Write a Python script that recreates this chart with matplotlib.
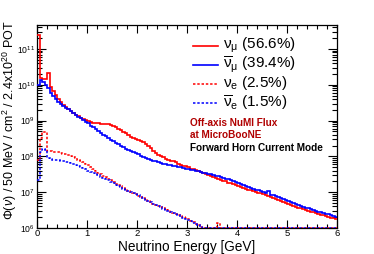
import numpy as np
import matplotlib
matplotlib.use('Agg')
import matplotlib.pyplot as plt
from matplotlib.lines import Line2D
from matplotlib.ticker import LogLocator, MultipleLocator, FuncFormatter, NullFormatter

plt.rcParams['font.family'] = ['Liberation Sans', 'DejaVu Sans']
plt.rcParams['mathtext.fontset'] = 'custom'
plt.rcParams['mathtext.rm'] = 'Liberation Sans'
plt.rcParams['mathtext.it'] = 'Liberation Sans:italic'
plt.rcParams['mathtext.bf'] = 'Liberation Sans:bold'
plt.rcParams['mathtext.sf'] = 'Liberation Sans'
plt.rcParams['mathtext.fallback'] = 'stixsans'

# ---- data: log10(flux) per 50 MeV bin, 0-6 GeV (None = empty bin) ----
bin_edges = np.linspace(0.0, 6.0, 121)

log_numu = [11.40, 10.18, 10.17, 10.16, 10.34, 9.93, 9.82, 9.72, 9.60, 9.51,
            9.44, 9.38, 9.32, 9.26, 9.21, 9.16, 9.12, 9.08, 9.04, 9.01,
            8.98, 8.96, 8.94, 8.93, 8.92, 8.91, 8.91, 8.90, 8.90, 8.89,
            8.86, 8.82, 8.77, 8.73, 8.68, 8.64, 8.59, 8.55, 8.52, 8.49,
            8.46, 8.43, 8.39, 8.35, 8.30, 8.24, 8.16, 8.10, 8.05, 8.01,
            7.97, 7.94, 7.91, 7.88, 7.86, 7.83, 7.80, 7.77, 7.74, 7.72,
            7.69, 7.66, 7.64, 7.61, 7.58, 7.56, 7.53, 7.50, 7.48, 7.46,
            7.43, 7.40, 7.37, 7.35, 7.32, 7.30, 7.27, 7.25, 7.22, 7.20,
            7.17, 7.14, 7.12, 7.10, 7.07, 7.06, 7.03, 7.01, 6.99, 6.97,
            6.94, 6.92, 6.89, 6.86, 6.83, 6.80, 6.78, 6.76, 6.73, 6.70,
            6.67, 6.65, 6.62, 6.60, 6.57, 6.55, 6.53, 6.50, 6.48, 6.46,
            6.44, 6.41, 6.39, 6.37, 6.35, 6.33, 6.31, 6.28, 6.27, 6.25]

log_numubar = [10.00, 10.12, 10.08, 10.00, 9.90, 9.76, 9.68, 9.60, 9.53, 9.47,
               9.41, 9.36, 9.31, 9.26, 9.21, 9.16, 9.11, 9.06, 9.01, 8.97,
               8.92, 8.86, 8.81, 8.76, 8.71, 8.66, 8.61, 8.56, 8.51, 8.46,
               8.42, 8.38, 8.34, 8.29, 8.25, 8.22, 8.18, 8.15, 8.12, 8.09,
               8.06, 8.02, 7.99, 7.96, 7.93, 7.91, 7.88, 7.86, 7.84, 7.82,
               7.80, 7.79, 7.77, 7.76, 7.74, 7.72, 7.71, 7.69, 7.67, 7.66,
               7.64, 7.62, 7.61, 7.59, 7.58, 7.56, 7.55, 7.53, 7.52, 7.50,
               7.48, 7.46, 7.44, 7.42, 7.40, 7.38, 7.36, 7.34, 7.31, 7.29,
               7.26, 7.24, 7.21, 7.18, 7.15, 7.13, 7.10, 7.07, 7.05, 7.02,
               7.00, 6.97, 7.02, 6.93, 6.91, 6.88, 6.86, 6.83, 6.81, 6.78,
               6.75, 6.72, 6.70, 6.67, 6.65, 6.62, 6.60, 6.57, 6.55, 6.52,
               6.50, 6.48, 6.46, 6.44, 6.42, 6.40, 6.38, 6.36, 6.34, 6.31]

log_nue = [7.90, 8.50, 8.69, 8.68, 8.16, 8.14, 8.13, 8.12, 8.11, 8.10,
           8.08, 8.06, 8.03, 8.01, 7.98, 7.95, 7.91, 7.87, 7.83, 7.79,
           7.75, 7.70, 7.65, 7.60, 7.55, 7.51, 7.46, 7.42, 7.37, 7.33,
           7.28, 7.24, 7.20, 7.16, 7.12, 7.08, 7.04, 7.01, 6.97, 6.94,
           6.90, 6.87, 6.83, 6.80, 6.76, 6.72, 6.68, 6.65, 6.61, 6.58,
           6.55, 6.52, 6.49, 6.46, 6.43, 6.40, 6.36, 6.33, 6.30, 6.27,
           6.24, 6.20, 6.16, 6.12, 6.08, 6.02, None, None, None, None,
           None, None, 6.14, None, None, None, None, None, None, None] + [None] * 40

log_nuebar = [7.35, 8.13, 8.20, 8.19, 7.95, 7.93, 7.91, 7.90, 7.89, 7.88,
              7.87, 7.85, 7.84, 7.82, 7.79, 7.76, 7.73, 7.70, 7.67, 7.64,
              7.60, 7.57, 7.54, 7.50, 7.47, 7.43, 7.40, 7.36, 7.33, 7.29,
              7.25, 7.21, 7.18, 7.14, 7.10, 7.07, 7.04, 7.00, 6.97, 6.94,
              6.91, 6.87, 6.83, 6.79, 6.75, 6.72, 6.68, 6.65, 6.61, 6.58,
              6.54, 6.51, 6.48, 6.45, 6.42, 6.38, 6.35, 6.32, 6.29, 6.26,
              6.22, 6.19, 6.15, 6.11, 6.07, 6.03] + [None] * 54

series_labels = [r'$\mathrm{\nu_{\mu}}$ (56.6%)',
                 r'$\mathrm{\overline{\nu}_{\mu}}$ (39.4%)',
                 r'$\mathrm{\nu_{e}}$ (2.5%)',
                 r'$\mathrm{\overline{\nu}_{e}}$ (1.5%)']

y_min, y_max = 1e6, 10 ** 11.67


def to_flux(logs):
    return np.array([10 ** v if v is not None else 0.0 for v in logs])


series = [to_flux(log_numu), to_flux(log_numubar), to_flux(log_nue), to_flux(log_nuebar)]
colors = ['#ff0000', '#0000ff', '#ff0000', '#0000ff']
dotted = (0, (1.6, 1.2))
styles = ['-', '-', dotted, dotted]
widths = [1.2, 1.2, 1.1, 1.1]

W, H = 374, 254
fig = plt.figure(figsize=(W / 100, H / 100), dpi=100)
ax = fig.add_axes([37 / W, (H - 228) / H, 300 / W, 203 / H])

# draw order: dotted first, then solid
for idx in [2, 3, 0, 1]:
    vals = np.where(series[idx] > 0, series[idx], y_min)
    ax.stairs(vals, bin_edges, color=colors[idx], linestyle=styles[idx],
              linewidth=widths[idx], baseline=None, zorder=3)

ax.set_yscale('log')
ax.set_xlim(0, 6)
ax.set_ylim(y_min, y_max)

ax.xaxis.set_major_locator(MultipleLocator(1))
ax.xaxis.set_minor_locator(MultipleLocator(0.2))
ax.yaxis.set_major_locator(LogLocator(base=10, numticks=20))
ax.yaxis.set_minor_locator(LogLocator(base=10, subs=np.arange(2, 10), numticks=20))
ax.yaxis.set_minor_formatter(NullFormatter())
ax.yaxis.set_major_formatter(FuncFormatter(lambda v, p: r'$10^{%d}$' % int(round(np.log10(v)))))

ax.tick_params(axis='both', which='both', direction='in', top=True, right=True,
               width=0.8, colors='black')
ax.tick_params(axis='x', which='major', length=5.5, labelsize=6.8, pad=1.0)
ax.tick_params(axis='x', which='minor', length=2.8)
ax.tick_params(axis='y', which='major', length=6.5, labelsize=6.2, pad=1.5)
ax.tick_params(axis='y', which='minor', length=3.3)
for s in ax.spines.values():
    s.set_linewidth(0.9)

fig.text(187 / W, (H - 250.5) / H, 'Neutrino Energy [GeV]', fontsize=9.8,
         ha='center', va='baseline')
fig.text(9.5 / W, (H - 20) / H,
         r'$\Phi(\nu)$ / 50 MeV / cm$^2$ / 2.4x10$^{20}$ POT',
         rotation=90, ha='center', va='top', fontsize=9)

# legend (manual, ROOT style)
row_y = [45.7, 65.0, 83.5, 102.7]
for i, yy in enumerate(row_y):
    yf = (H - yy) / H
    fig.add_artist(Line2D([193 / W, 218 / W], [yf, yf], color=colors[i],
                          linestyle=styles[i], linewidth=widths[i]))
    fig.text(223 / W, yf, series_labels[i], fontsize=11, ha='left', va='center')

fig.text(190 / W, (H - 126.5) / H, 'Off-axis NuMI Flux', color='#b00000',
         fontsize=7.2, fontweight='bold', ha='left', va='baseline')
fig.text(190 / W, (H - 137.5) / H, 'at MicroBooNE', color='#b00000',
         fontsize=7.2, fontweight='bold', ha='left', va='baseline')
fig.text(190 / W, (H - 151) / H, 'Forward Horn Current Mode', color='black',
         fontsize=7.2, fontweight='bold', ha='left', va='baseline')

fig.savefig('out.png', dpi=100)
